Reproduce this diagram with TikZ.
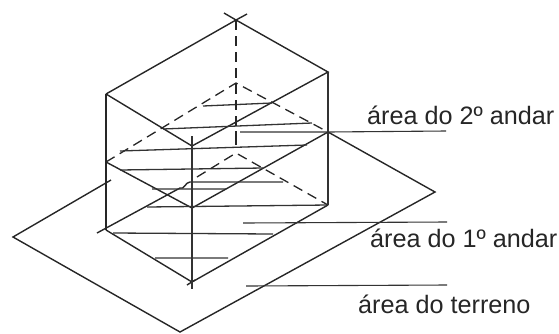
\documentclass[tikz,border=0pt]{standalone}
\usepackage{fontspec}
\setmainfont{Liberation Sans}
\begin{document}
\begin{tikzpicture}[
        x=1pt,y=-1pt,
        every node/.append style={font=\fontsize{25.2}{25.2}\selectfont,inner sep=0pt,text=black!85}
    ]
    \tikzstyle{edge}=[draw=black!85,line width=1.4pt];
    \tikzstyle{fine}=[draw=black!80,line width=1.1pt];
    \tikzstyle{hidden}=[draw=black!85,line width=1.3pt,dash pattern=on 10pt off 6pt];
    \tikzstyle{hatch}=[draw=black!80,line width=1.3pt];
    \useasboundingbox (0,0) rectangle (559,333);
    % terrain
    \begin{scope}
        \coordinate (tl) at (13,237);
        \coordinate (tb) at (180,332);
        \coordinate (tr) at (435,192);
        \coordinate (te) at (111,180);
        \coordinate (tm) at (328,132);
        \draw[edge] (te) -- (tl) -- (tb) -- (tr) -- (tm);
    \end{scope}
    % top
    \begin{scope}
        \coordinate (a0) at (236,20);
        \coordinate (a1) at (106,94);
        \coordinate (a2) at (192,146);
        \coordinate (a3) at (328,72);
        \draw[edge] (a1) -- (a0) -- (a3) -- (a2) -- (a1);
        \draw[edge] (224,13) -- (a0) -- (247,14);
    \end{scope}
    % second floor
    \begin{scope}
        \coordinate (b0) at (236,83);
        \coordinate (b1) at (106,162);
        \coordinate (b2) at (192,208);
        \coordinate (b3) at (328,132);
        \draw[edge] (b1) -- (b2) -- (b3);
        \draw[hidden] (b1) -- (b0) -- (b3);
        \draw[hatch] (203,106) -- (272,103) (163,129) -- (312,123) (240,132) -- (b3);
        \draw[hatch] (120,151) -- (307,145) (120,170) -- (263,168);
    \end{scope}
    % first floor
    \begin{scope}
        \coordinate (c0) at (236,153);
        \coordinate (c1) at (106,230);
        \coordinate (c2) at (192,282);
        \coordinate (c3) at (328,205);
        \coordinate (c4) at (97,233);
        \coordinate (c5) at (180,188);
        \draw[edge] (c1) -- (c2) -- (c3);
        \draw[edge] (c4) -- (c5) to[out=-30,in=180] (190,182);
        \draw[hidden] (197,177) -- (c0) -- (c3);
        \draw[hatch] (190,182) -- (283,182) (152,189) -- (226,189) (147,207) -- (c3);
        \draw[hatch] (113,233) -- (273,234) (155,258) -- (228,258);
        \draw[edge] (187,285) -- (195,280);
    \end{scope}
    % verticals
    \coordinate (a4) at (192,136);
    \coordinate (c6) at (192,289);
    \draw[edge] (a1) -- (c1);
    \draw[fine] (a4) -- (c6);
    \draw[fine] (a3) -- (c3);
    \draw[hidden] (a0) -- (b0) -- (236,131);
    \draw[edge,line width=1.8pt] (236,131) -- (236,145);
    % labels
    \node[anchor=base west] (l2) at (367,124) {área do 2º andar};
    \node[anchor=base west] (l1) at (370,247) {área do 1º andar};
    \node[anchor=base west] (l0) at (358,313) {área do terreno};
    \coordinate (l2s) at (446,131);
    \coordinate (l1e) at (447,222);
    \coordinate (l1s) at (243,223);
    \coordinate (l0e) at (447,285);
    \coordinate (l0s) at (246,286);
    \draw[fine] (b3) -- (l2s) (l1s) -- (l1e) (l0s) -- (l0e);
\end{tikzpicture}
\end{document}
